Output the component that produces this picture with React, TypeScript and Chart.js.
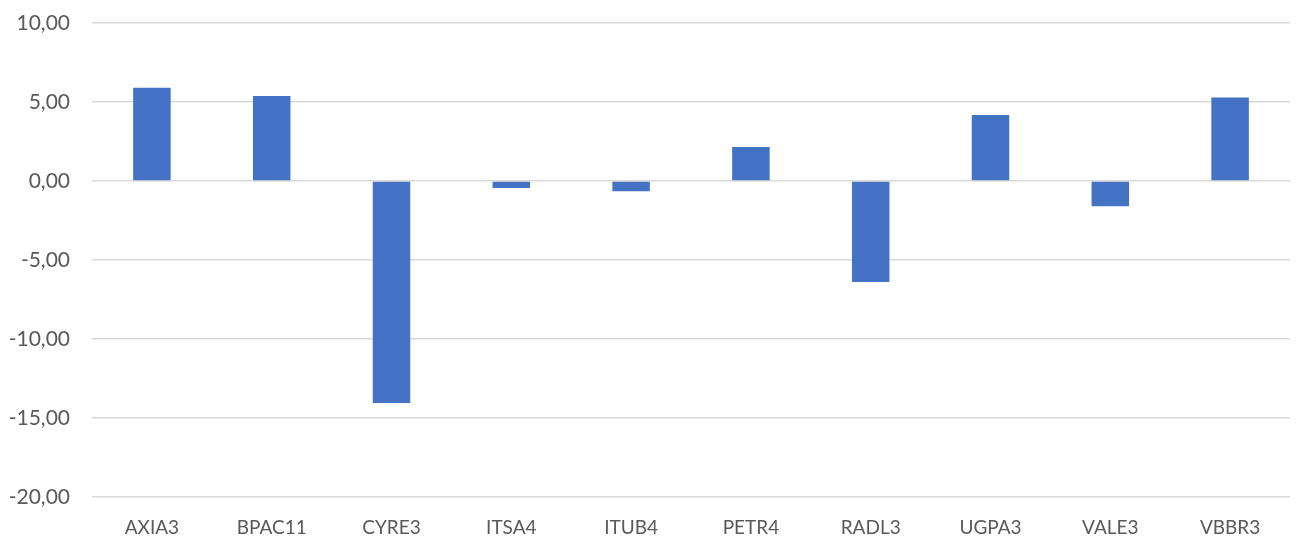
import React, { useEffect, useRef } from "react";
import { Chart, registerables } from "chart.js";

Chart.register(...registerables);

const categories = ["AXIA3", "BPAC11", "CYRE3", "ITSA4", "ITUB4", "PETR4", "RADL3", "UGPA3", "VALE3", "VBBR3"];
const values = [5.9, 5.38, -14.05, -0.45, -0.65, 2.15, -6.39, 4.18, -1.6, 5.28];
const yMin = -20;
const yMax = 10;
const yStep = 5;

export default function App() {
  const ref = useRef<HTMLCanvasElement | null>(null);
  useEffect(() => {
    document.body.style.margin = "0";
    const ctx = ref.current!;
    const chart = new Chart(ctx, {
      type: "bar",
      data: {
        labels: categories,
        datasets: [
          {
            data: values,
            backgroundColor: "#4472C4",
            borderWidth: 0,
            categoryPercentage: 1,
            barPercentage: 0.313,
          },
        ],
      },
      options: {
        animation: false,
        responsive: false,
        maintainAspectRatio: false,
        layout: { padding: { top: 23, right: 9, left: 0, bottom: 0 } },
        plugins: { legend: { display: false }, tooltip: { enabled: false } },
        scales: {
          x: {
            grid: { display: false, drawTicks: false },
            border: { display: false },
            ticks: {
              color: "#595959",
              font: { family: "Lato", size: 19 },
              padding: 19,
              maxRotation: 0,
            },
            afterFit: (s: any) => {
              s.height = 45;
              s.paddingLeft = 0;
              s.paddingRight = 0;
            },
          },
          y: {
            min: yMin,
            max: yMax,
            grid: { color: "#d9d9d9", lineWidth: 1.5, drawTicks: false },
            border: { display: false },
            ticks: {
              stepSize: yStep,
              color: "#595959",
              font: { family: "Lato", size: 21 },
              padding: 22,
              callback: (v: any) => Number(v).toFixed(2).replace(".", ","),
            },
            afterFit: (s: any) => {
              s.width = 92;
              s.paddingTop = 0;
              s.paddingBottom = 0;
            },
          },
        },
      },
    });
    return () => chart.destroy();
  }, []);
  return (
    <div style={{ width: 1299, height: 542 }}>
      <canvas ref={ref} width={1299} height={542} style={{ display: "block" }} />
    </div>
  );
}
